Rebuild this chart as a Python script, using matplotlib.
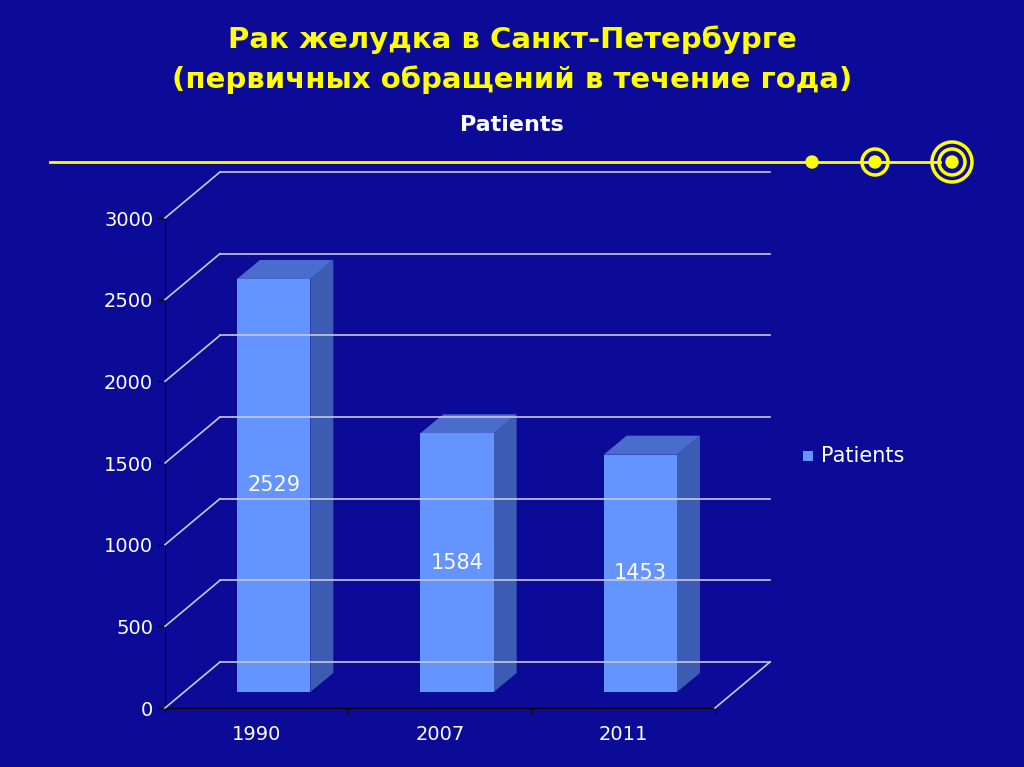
import matplotlib
matplotlib.use("Agg")
import matplotlib.pyplot as plt
from matplotlib.patches import Polygon, Rectangle, Circle
from matplotlib.lines import Line2D

years = ["1990", "2007", "2011"]
patients = [2529, 1584, 1453]
yticks = [0, 500, 1000, 1500, 2000, 2500, 3000]

BG = "#0b0b98"
fig = plt.figure(figsize=(10.24, 7.67), dpi=100, facecolor=BG)
ax = fig.add_axes([165/1024, 59/767, 550/1024, 490/767])
ax.set_facecolor("none")
ax.set_xlim(-0.5, 2.5)
ax.set_ylim(0, 3000)
for s in ["top", "right"]:
    ax.spines[s].set_visible(False)
for s in ["left", "bottom"]:
    ax.spines[s].set_color("black")
ax.set_xticks(range(len(years)))
ax.set_xticklabels(years)
ax.set_yticks(yticks)
ax.tick_params(colors="black", labelcolor="white", labelsize=14, length=5)
ax.tick_params(axis="x", pad=12)
ax.set_xticks([-0.5, 0.5, 1.5, 2.5], minor=True)
ax.tick_params(axis="x", which="major", length=0)
ax.tick_params(axis="x", which="minor", length=5, color="black")

fig.canvas.draw()
T = ax.transData.transform
DX, DY = 55, 46  # wall depth in pixels
grid_c = "#c8c8d8"

def P(x, y, ox=0, oy=0):
    px, py = T((x, y))
    return (px + ox, py + oy)

# back wall gridlines and left side diagonals
for v in yticks:
    a = P(-0.5, v, DX, DY); b = P(2.5, v, DX, DY)
    fig.add_artist(Line2D([a[0], b[0]], [a[1], b[1]], color=grid_c, lw=1.2, transform=None))
    f = P(-0.5, v)
    fig.add_artist(Line2D([f[0], a[0]], [f[1], a[1]], color=grid_c, lw=1.2, transform=None))
# floor right diagonal
f = P(2.5, 0); a = P(2.5, 0, DX, DY)
fig.add_artist(Line2D([f[0], a[0]], [f[1], a[1]], color=grid_c, lw=1.2, transform=None))

# bars
OX, OY = 17, 16
BD, BH = 23, 19
for i, v in enumerate(patients):
    l, r = i - 0.2, i + 0.2
    bl = P(l, 0, OX, OY); br = P(r, 0, OX, OY)
    tl = P(l, v, OX, OY); tr = P(r, v, OX, OY)
    side = [br, tr, (tr[0]+BD, tr[1]+BH), (br[0]+BD, br[1]+BH)]
    top = [tl, tr, (tr[0]+BD, tr[1]+BH), (tl[0]+BD, tl[1]+BH)]
    fig.add_artist(Polygon(side, closed=True, fc="#3c5cb4", ec="none", transform=None))
    fig.add_artist(Polygon(top, closed=True, fc="#4a6ccc", ec="none", transform=None))
    fig.add_artist(Polygon([bl, br, tr, tl], closed=True, fc="#6394ff", ec="none", transform=None))
    fig.text((bl[0]+br[0])/2/1024, (bl[1]+tl[1])/2/767, str(v), color="white",
             fontsize=15, ha="center", va="center")

# titles
fig.text(0.5, 1-40/767, "Рак желудка в Санкт-Петербурге", color="#ffff00", fontsize=21,
         fontweight="bold", ha="center", va="center")
fig.text(0.5, 1-80/767, "(первичных обращений в течение года)", color="#ffff00", fontsize=21,
         fontweight="bold", ha="center", va="center")
fig.text(0.5, 1-125/767, "Patients", color="white", fontsize=16, fontweight="bold",
         ha="center", va="center")

# decorative yellow line
Y = 767 - 162
fig.add_artist(Line2D([50, 940], [Y, Y], color="#ffff00", lw=2, transform=None))
fig.add_artist(Circle((812, Y), 6, color="#ffff00", transform=None))
fig.add_artist(Circle((875, Y), 13, fc=BG, ec="#ffff00", lw=2.5, transform=None))
fig.add_artist(Circle((875, Y), 6, color="#ffff00", transform=None))
fig.add_artist(Circle((952, Y), 20, fc=BG, ec="#ffff00", lw=2.5, transform=None))
fig.add_artist(Circle((952, Y), 13, fc=BG, ec="#ffff00", lw=2.5, transform=None))
fig.add_artist(Circle((952, Y), 6, color="#ffff00", transform=None))

# legend
fig.add_artist(Rectangle((803, 767-461), 10, 10, fc="#6394ff", ec="none", transform=None))
fig.text(821/1024, 1-456/767, "Patients", color="white", fontsize=15, ha="left", va="center")

fig.savefig("out.png", dpi=100, facecolor=BG)
